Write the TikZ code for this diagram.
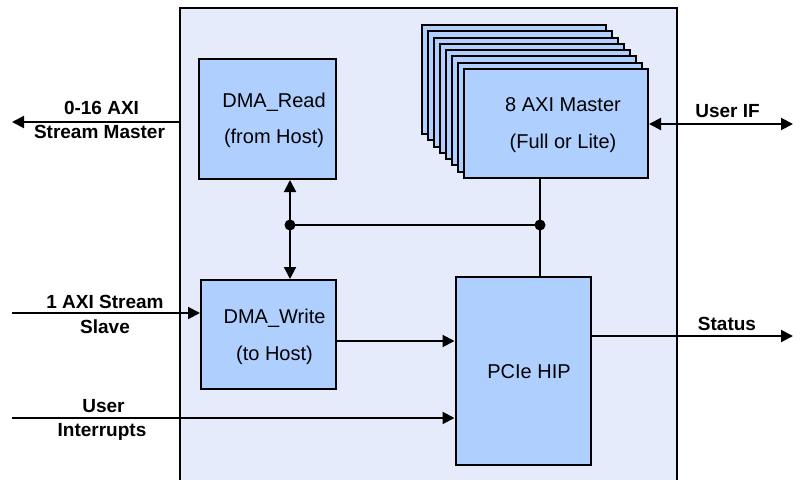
\documentclass[tikz,border=0pt]{standalone}
\usepackage{fontspec}
\setmainfont{Liberation Sans}
\usetikzlibrary{arrows.meta}
\definecolor{bgl}{RGB}{230,235,252}
\definecolor{boxblue}{RGB}{175,207,255}
\begin{document}
\begin{tikzpicture}[x=1pt,y=-1pt, line width=2pt,
  blk/.style={draw=black, fill=boxblue, line width=2pt, inner sep=0pt},
  boxtxt/.style={font=\fontsize{20}{24}\selectfont, anchor=base, inner sep=0pt},
  lbl/.style={font=\bfseries\fontsize{19}{23}\selectfont, anchor=base, inner sep=0pt},
  tip/.style={Triangle[length=12pt,width=12pt]},
  arr/.style={-{Triangle[length=12pt,width=12pt]}},
  arrb/.style={{Triangle[length=12pt,width=12pt]}-{Triangle[length=12pt,width=12pt]}},
  jdot/.style={circle, fill=black, inner sep=0pt, minimum size=11pt}]
\clip (0,0) rectangle (800,479);
\fill[white] (0,0) rectangle (800,479);
\draw[fill=bgl] (180,8) rectangle (677,500);

% blocks
\node[blk, minimum width=137pt, minimum height=120pt] (rd) at (267.5,119) {};
\node[blk, minimum width=135pt, minimum height=109pt] (wr) at (268.5,334.5) {};
\node[blk, minimum width=135pt, minimum height=188pt] (pcie) at (523,371) {};
\foreach \i in {0,...,6}{
  \node[blk, minimum width=184pt, minimum height=109pt] (axi\i) at ({514+6*\i},{79.5+6.29*\i}) {};
}
\node[blk, minimum width=184pt, minimum height=109pt] (axi) at (556,123.5) {};

% block texts
\node[boxtxt] (rdt1) at (274,107) {DMA\_Read};
\node[boxtxt] (rdt2) at (274,143) {(from Host)};
\node[boxtxt] (wrt1) at (274.5,323) {DMA\_Write};
\node[boxtxt] (wrt2) at (274.5,360) {(to Host)};
\node[boxtxt] (axt1) at (563,111) {8 AXI Master};
\node[boxtxt] (axt2) at (563,148) {(Full or Lite)};
\node[boxtxt] (pct) at (529,378) {PCIe HIP};

% internal connections
\coordinate (j1) at (290,225);
\coordinate (j2) at (540,225);
\draw (j1) -- (j2);
\draw[arr] (j1) -- (j1 |- rd.south);
\draw[arr] (j1) -- (j1 |- wr.north);
\draw (j2 |- axi.south) -- (j2 |- pcie.north);
\node[jdot] (d1) at (j1) {};
\node[jdot] (d2) at (j2) {};
\coordinate (w1) at (336,341);
\draw[arr] (w1) -- (w1 -| pcie.west);

% external connections
\coordinate (o1) at (180,122);
\coordinate (l1) at (12,122);
\draw[arr] (o1) -- (l1);
\coordinate (s1) at (12,313);
\draw[arr] (s1) -- (s1 -| wr.west);
\coordinate (i1) at (12,418);
\draw[arr] (i1) -- (i1 -| pcie.west);
\coordinate (st) at (793,336);
\draw[arr] (st -| pcie.east) -- (st);
\coordinate (uf) at (793,124);
\draw[arrb] (uf -| axi.east) -- (uf);

% labels
\node[lbl] (la1) at (101.5,114) {0-16 AXI};
\node[lbl] (la2) at (99.5,138) {Stream Master};
\node[lbl] (lb1) at (105,308) {1 AXI Stream};
\node[lbl] (lb2) at (105,333) {Slave};
\node[lbl] (lc1) at (103.5,412) {User};
\node[lbl] (lc2) at (102,436) {Interrupts};
\node[lbl] (ld) at (727.5,117) {User IF};
\node[lbl] (le) at (727,330) {Status};
\end{tikzpicture}
\end{document}
